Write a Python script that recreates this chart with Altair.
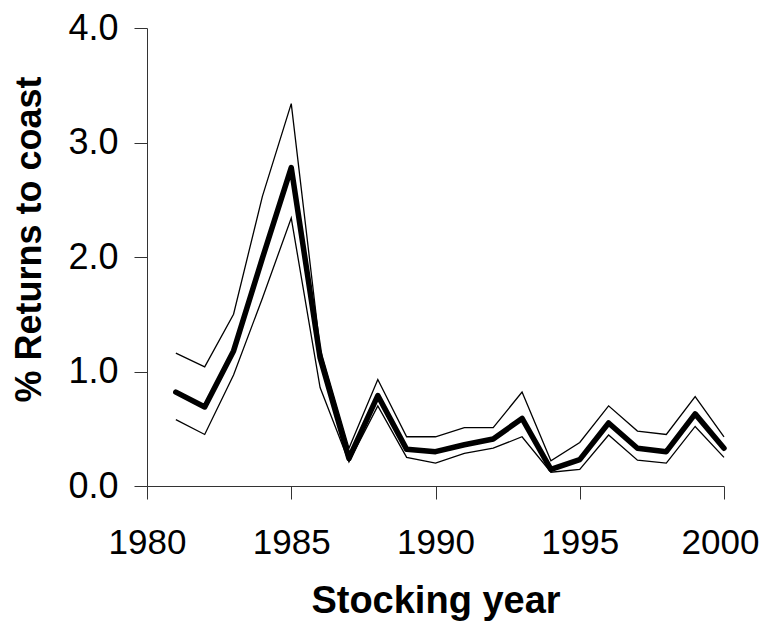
import altair as alt
import pandas as pd

years = list(range(1981, 2001))
mean_vals = [0.82, 0.69, 1.18, 1.99, 2.78, 1.12, 0.24, 0.79, 0.32, 0.30,
             0.36, 0.41, 0.59, 0.145, 0.23, 0.55, 0.33, 0.30, 0.63, 0.33]
upper_vals = [1.16, 1.04, 1.50, 2.53, 3.34, 1.20, 0.33, 0.93, 0.43, 0.43,
              0.51, 0.51, 0.82, 0.22, 0.38, 0.70, 0.48, 0.45, 0.78, 0.43]
lower_vals = [0.58, 0.45, 0.97, 1.64, 2.34, 0.86, 0.21, 0.70, 0.25, 0.20,
              0.285, 0.33, 0.43, 0.12, 0.145, 0.445, 0.225, 0.20, 0.52, 0.25]
x_ticks = [1980, 1985, 1990, 1995, 2000]
y_ticks = [0, 1, 2, 3, 4]

rows = []
for name, vals in [("upper", upper_vals), ("lower", lower_vals), ("mean", mean_vals)]:
    for yr, v in zip(years, vals):
        rows.append({"year": yr, "value": v, "series": name})
df = pd.DataFrame(rows)

x_enc = alt.X("year:Q", scale=alt.Scale(domain=[1980, 2000], nice=False, zero=False),
              axis=alt.Axis(values=x_ticks, format="d", title="Stocking year",
                            labelFontSize=35, titleFontSize=38, labelPadding=26,
                            titlePadding=22, tickSize=13, grid=False,
                            labelOffset={"condition": {"test": "datum.value == 2000", "value": -4},
                                         "value": 0},
                            labelFont="Liberation Sans", titleFont="Liberation Sans",
                            labelColor="black", titleColor="black",
                            domainColor="#333", tickColor="#333",
                            labelFlush=False))
y_enc = alt.Y("value:Q", scale=alt.Scale(domain=[0, 4], nice=False),
              axis=alt.Axis(values=y_ticks, format=".1f", title="% Returns to coast",
                            labelFontSize=36, titleFontSize=36, labelPadding=16,
                            titlePadding=19, tickSize=13, grid=False, titleY=211,
                            labelFont="Liberation Sans", titleFont="Liberation Sans",
                            labelColor="black", titleColor="black",
                            domainColor="#333", tickColor="#333",
                            labelFlush=False))

thin = alt.Chart(df).transform_filter(alt.datum.series != "mean").mark_line(
    color="black", strokeWidth=1.3).encode(x=x_enc, y=y_enc, detail="series:N")
thick = alt.Chart(df).transform_filter(alt.datum.series == "mean").mark_line(
    color="black", strokeWidth=5.5, strokeJoin="round", strokeCap="round").encode(x=x_enc, y=y_enc)

chart = alt.layer(thin, thick).properties(
    width=577, height=458,
    autosize=alt.AutoSizeParams(type="none"),
    padding={"left": 139, "top": 20, "right": 36, "bottom": 136},
).configure_view(stroke=None).configure_axis(titleFontWeight="bold")

chart.save("out.html", embed_options={"renderer": "svg", "actions": False})
